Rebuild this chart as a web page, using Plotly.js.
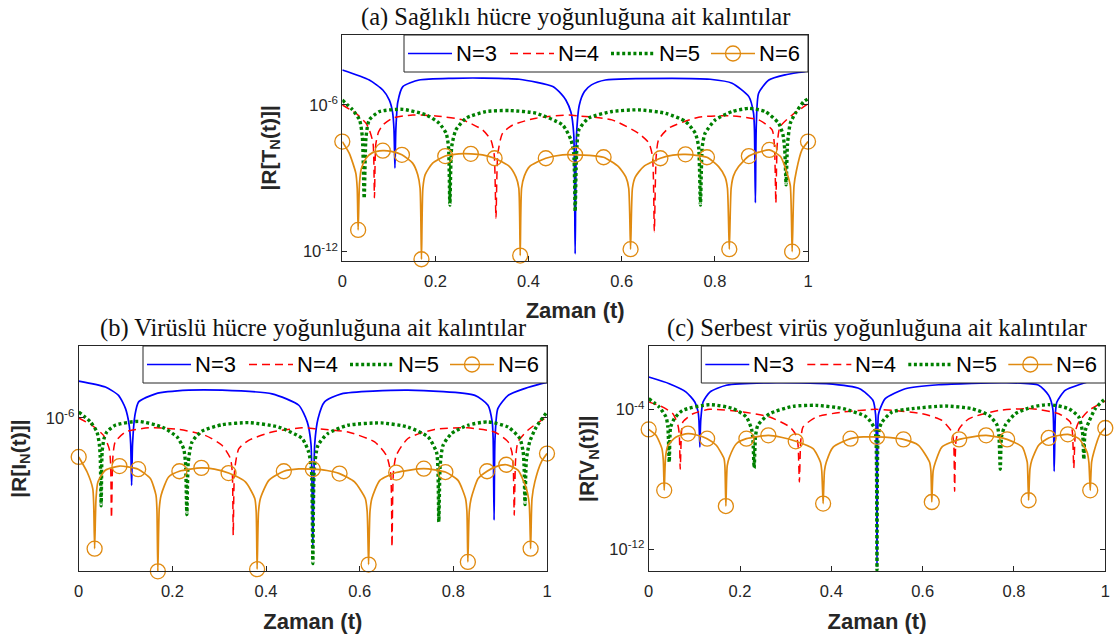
<!DOCTYPE html>
<html>
<head>
<meta charset="utf-8">
<script src="https://cdn.plot.ly/plotly-3.0.1.min.js"></script>
<style>
  html, body { margin: 0; padding: 0; background: #ffffff; }
  #chart { width: 1119px; height: 643px; }
</style>
</head>
<body>
<div id="chart"></div>
<script>
// Residual magnitudes |R| of the collocation solutions, stored as log10 values.
// Panel (a): healthy cells T
const aT3 = [0, 0.058, 0.087, 0.101, 0.108, 0.111, 0.113, 0.115, 0.119, 0.130, 0.165, 0.237, 0.300, 0.380, 0.452, 0.470, 0.480, 0.491, 0.497, 0.500, 0.503, 0.509, 0.520, 0.535, 0.565, 0.708, 0.790, 0.837, 0.873, 0.883, 0.885, 0.887, 0.889, 0.894, 0.916, 0.951, 0.994, 1];
const aV3 = [-4.57, -4.98, -5.39, -5.80, -6.30, -7.00, -8.58, -7.00, -5.90, -5.25, -4.98, -4.91, -4.90, -4.95, -5.25, -5.55, -5.80, -6.30, -7.20, -12.09, -7.20, -6.00, -5.45, -5.18, -4.98, -4.91, -4.95, -5.11, -5.66, -6.33, -7.00, -10.00, -6.80, -5.52, -4.98, -4.77, -4.63, -4.60];
const aT4 = [0, 0.029, 0.051, 0.058, 0.066, 0.069, 0.072, 0.078, 0.087, 0.108, 0.151, 0.201, 0.258, 0.301, 0.319, 0.326, 0.330, 0.334, 0.344, 0.366, 0.416, 0.487, 0.508, 0.579, 0.636, 0.658, 0.666, 0.670, 0.674, 0.679, 0.701, 0.765, 0.837, 0.894, 0.923, 0.928, 0.931, 0.934, 0.940, 0.966, 0.991, 1];
const aV4 = [-6.00, -6.34, -6.75, -7.02, -7.56, -9.80, -7.60, -7.10, -6.82, -6.54, -6.41, -6.45, -6.61, -7.02, -7.43, -8.00, -10.63, -8.00, -7.16, -6.82, -6.54, -6.41, -6.45, -6.61, -7.16, -7.55, -8.10, -11.18, -8.10, -7.43, -6.95, -6.50, -6.45, -6.61, -7.02, -7.70, -10.02, -7.60, -6.89, -6.41, -6.07, -5.95];
const aT5 = [0, 0.022, 0.037, 0.043, 0.047, 0.051, 0.058, 0.080, 0.130, 0.180, 0.208, 0.223, 0.228, 0.231, 0.235, 0.244, 0.266, 0.309, 0.359, 0.416, 0.473, 0.491, 0.497, 0.500, 0.503, 0.508, 0.529, 0.579, 0.636, 0.694, 0.737, 0.758, 0.765, 0.769, 0.773, 0.779, 0.801, 0.837, 0.873, 0.908, 0.937, 0.946, 0.950, 0.953, 0.956, 0.962, 0.973, 0.991, 1];
const aV5 = [-5.80, -6.20, -6.61, -7.30, -9.82, -7.30, -6.61, -6.27, -6.18, -6.41, -6.75, -7.16, -7.70, -10.09, -7.70, -7.02, -6.54, -6.27, -6.23, -6.34, -6.82, -7.43, -8.00, -10.36, -8.00, -7.02, -6.54, -6.27, -6.20, -6.34, -6.68, -7.16, -7.70, -10.09, -7.70, -7.16, -6.61, -6.27, -6.14, -6.27, -6.75, -7.20, -7.80, -9.27, -7.60, -6.75, -6.34, -5.86, -5.75];
const aT6 = [0, 0.015, 0.029, 0.032, 0.034, 0.037, 0.041, 0.051, 0.065, 0.087, 0.105, 0.128, 0.151, 0.162, 0.167, 0.170, 0.173, 0.178, 0.194, 0.221, 0.250, 0.276, 0.301, 0.327, 0.359, 0.373, 0.379, 0.382, 0.385, 0.391, 0.402, 0.437, 0.473, 0.500, 0.530, 0.561, 0.593, 0.609, 0.615, 0.619, 0.623, 0.629, 0.647, 0.683, 0.710, 0.737, 0.783, 0.808, 0.822, 0.827, 0.831, 0.835, 0.840, 0.851, 0.873, 0.895, 0.917, 0.941, 0.955, 0.962, 0.966, 0.970, 0.975, 0.987, 1];
const aV6 = [-7.50, -7.98, -8.79, -9.40, -11.11, -9.20, -8.60, -8.18, -7.95, -7.87, -7.90, -8.04, -8.38, -8.85, -9.40, -12.31, -9.40, -8.85, -8.38, -8.09, -8.00, -8.00, -8.04, -8.18, -8.52, -8.95, -9.40, -12.16, -9.40, -8.90, -8.52, -8.18, -8.04, -8.04, -8.06, -8.14, -8.52, -8.95, -9.40, -11.90, -9.40, -8.95, -8.52, -8.18, -8.05, -8.02, -8.14, -8.52, -8.95, -9.40, -11.90, -9.40, -8.90, -8.52, -8.09, -7.93, -7.84, -8.11, -8.79, -9.30, -12.00, -9.30, -8.70, -7.84, -7.50];
const aMarkT6 = [0, 0.034, 0.087, 0.128, 0.170, 0.221, 0.276, 0.327, 0.382, 0.437, 0.500, 0.561, 0.619, 0.683, 0.737, 0.783, 0.831, 0.873, 0.917, 0.966, 1];
const aMarkV6 = [-7.50, -11.11, -7.87, -8.04, -12.31, -8.09, -8.00, -8.18, -12.16, -8.18, -8.04, -8.14, -11.90, -8.18, -8.02, -8.14, -11.90, -8.09, -7.84, -12.00, -7.50];

// Panel (b): infected cells I
const bT3 = [0, 0.057, 0.085, 0.100, 0.108, 0.111, 0.113, 0.115, 0.120, 0.128, 0.164, 0.235, 0.306, 0.413, 0.470, 0.488, 0.496, 0.500, 0.504, 0.511, 0.525, 0.561, 0.703, 0.846, 0.874, 0.883, 0.885, 0.887, 0.889, 0.895, 0.917, 0.952, 0.988, 1];
const bV3 = [-4.58, -4.81, -5.13, -5.64, -6.30, -7.00, -8.59, -7.00, -5.90, -5.38, -5.07, -4.93, -4.93, -5.07, -5.51, -6.15, -7.00, -11.00, -7.00, -6.03, -5.38, -5.07, -4.93, -5.13, -5.51, -6.15, -6.80, -9.93, -6.80, -5.64, -5.13, -4.87, -4.68, -4.63];
const bT4 = [0, 0.028, 0.053, 0.065, 0.068, 0.070, 0.073, 0.078, 0.100, 0.149, 0.214, 0.270, 0.306, 0.324, 0.328, 0.330, 0.333, 0.342, 0.363, 0.413, 0.477, 0.504, 0.575, 0.632, 0.657, 0.666, 0.669, 0.672, 0.678, 0.703, 0.760, 0.831, 0.888, 0.917, 0.925, 0.928, 0.930, 0.933, 0.938, 0.959, 0.988, 1];
const bV4 = [-6.00, -6.28, -6.67, -7.18, -7.70, -9.85, -7.50, -6.92, -6.54, -6.38, -6.44, -6.67, -7.05, -7.56, -8.10, -10.51, -8.00, -7.18, -6.86, -6.54, -6.38, -6.41, -6.54, -6.92, -7.44, -8.10, -10.96, -8.10, -7.44, -6.79, -6.44, -6.38, -6.54, -6.92, -7.31, -7.90, -9.74, -7.60, -6.92, -6.47, -6.09, -5.98];
const bT5 = [0, 0.025, 0.039, 0.044, 0.046, 0.048, 0.050, 0.054, 0.060, 0.078, 0.128, 0.178, 0.210, 0.224, 0.228, 0.231, 0.234, 0.242, 0.263, 0.306, 0.363, 0.427, 0.477, 0.491, 0.497, 0.500, 0.503, 0.511, 0.532, 0.575, 0.646, 0.703, 0.746, 0.764, 0.767, 0.769, 0.772, 0.778, 0.796, 0.831, 0.874, 0.917, 0.942, 0.949, 0.951, 0.953, 0.956, 0.963, 0.977, 1];
const bV5 = [-5.77, -6.15, -6.54, -7.00, -7.50, -9.38, -7.30, -6.80, -6.54, -6.28, -6.13, -6.35, -6.73, -7.18, -7.70, -9.72, -7.70, -6.92, -6.51, -6.26, -6.18, -6.35, -6.79, -7.31, -8.00, -11.60, -8.00, -7.05, -6.60, -6.28, -6.19, -6.35, -6.73, -7.31, -7.90, -10.00, -7.80, -7.05, -6.60, -6.28, -6.15, -6.35, -6.79, -7.30, -7.80, -9.33, -7.60, -6.92, -6.35, -5.77];
const bT6 = [0, 0.018, 0.030, 0.032, 0.034, 0.037, 0.041, 0.057, 0.087, 0.105, 0.127, 0.153, 0.165, 0.167, 0.169, 0.172, 0.176, 0.192, 0.215, 0.262, 0.290, 0.320, 0.356, 0.376, 0.379, 0.381, 0.384, 0.388, 0.406, 0.438, 0.470, 0.500, 0.530, 0.557, 0.589, 0.612, 0.616, 0.619, 0.622, 0.626, 0.643, 0.678, 0.737, 0.783, 0.810, 0.826, 0.829, 0.831, 0.834, 0.838, 0.853, 0.872, 0.890, 0.913, 0.938, 0.956, 0.962, 0.965, 0.968, 0.974, 0.988, 1];
const bV6 = [-7.50, -8.08, -8.72, -9.30, -11.03, -9.10, -8.46, -8.01, -7.85, -7.88, -7.97, -8.33, -8.97, -9.50, -11.90, -9.50, -8.97, -8.27, -8.05, -7.92, -7.97, -8.12, -8.46, -9.10, -9.60, -11.82, -9.60, -9.10, -8.40, -8.05, -7.96, -7.97, -8.02, -8.14, -8.46, -9.10, -9.60, -11.64, -9.60, -9.10, -8.40, -8.10, -7.95, -8.08, -8.40, -9.10, -9.60, -11.54, -9.60, -9.10, -8.33, -8.05, -7.88, -7.80, -8.01, -8.72, -9.30, -11.03, -9.10, -8.46, -7.69, -7.37];
const bMarkT6 = [0, 0.034, 0.087, 0.127, 0.169, 0.215, 0.262, 0.320, 0.381, 0.438, 0.500, 0.557, 0.619, 0.678, 0.737, 0.783, 0.831, 0.872, 0.913, 0.965, 1];
const bMarkV6 = [-7.50, -11.03, -7.85, -7.97, -11.90, -8.05, -7.92, -8.12, -11.82, -8.05, -7.97, -8.14, -11.64, -8.10, -7.95, -8.08, -11.54, -8.05, -7.80, -11.03, -7.37];

// Panel (c): free virus V
const cT3 = [0, 0.045, 0.082, 0.101, 0.108, 0.110, 0.112, 0.114, 0.119, 0.134, 0.170, 0.279, 0.389, 0.462, 0.491, 0.497, 0.500, 0.503, 0.507, 0.518, 0.562, 0.635, 0.781, 0.854, 0.876, 0.885, 0.888, 0.891, 0.894, 0.912, 0.949, 1];
const cV3 = [-2.13, -2.51, -2.99, -3.56, -4.10, -4.60, -6.14, -4.60, -3.56, -2.99, -2.60, -2.45, -2.51, -2.80, -3.46, -4.30, -13.00, -4.30, -3.94, -3.37, -2.80, -2.57, -2.45, -2.60, -3.18, -3.94, -7.53, -4.10, -3.56, -2.89, -2.51, -2.10];
const cT4 = [0, 0.031, 0.053, 0.064, 0.067, 0.069, 0.072, 0.075, 0.097, 0.134, 0.207, 0.265, 0.309, 0.323, 0.327, 0.330, 0.333, 0.338, 0.367, 0.426, 0.498, 0.533, 0.599, 0.642, 0.664, 0.668, 0.670, 0.673, 0.680, 0.701, 0.767, 0.839, 0.898, 0.923, 0.928, 0.931, 0.935, 0.942, 0.964, 0.996, 1];
const cV4 = [-3.55, -3.85, -4.23, -4.89, -5.40, -7.41, -5.20, -4.70, -4.23, -3.98, -4.13, -4.42, -4.99, -5.47, -6.00, -8.14, -5.80, -4.99, -4.42, -4.13, -3.98, -4.04, -4.23, -4.61, -5.28, -5.90, -8.68, -5.80, -5.09, -4.52, -4.04, -3.94, -4.23, -4.70, -5.30, -7.34, -5.20, -4.70, -4.04, -3.56, -3.50];
const cT5 = [0, 0.023, 0.038, 0.042, 0.045, 0.048, 0.056, 0.074, 0.134, 0.185, 0.214, 0.225, 0.228, 0.231, 0.234, 0.239, 0.265, 0.316, 0.367, 0.426, 0.477, 0.495, 0.498, 0.500, 0.502, 0.506, 0.511, 0.533, 0.577, 0.650, 0.708, 0.745, 0.763, 0.767, 0.770, 0.773, 0.781, 0.803, 0.839, 0.876, 0.920, 0.942, 0.950, 0.953, 0.956, 0.964, 0.978, 0.996, 1];
const cV5 = [-3.37, -3.85, -4.42, -5.00, -7.00, -5.00, -4.52, -4.04, -3.71, -3.94, -4.42, -5.09, -5.60, -7.34, -5.50, -4.89, -4.23, -3.81, -3.75, -3.94, -4.42, -5.09, -5.80, -13.20, -5.80, -5.00, -4.70, -4.13, -3.94, -3.79, -3.94, -4.32, -4.89, -5.50, -7.41, -5.50, -4.89, -4.23, -3.85, -3.71, -3.94, -4.42, -5.28, -6.84, -5.20, -4.70, -3.94, -3.46, -3.40];
const cT6 = [0, 0.016, 0.029, 0.032, 0.034, 0.037, 0.042, 0.060, 0.086, 0.105, 0.128, 0.148, 0.165, 0.167, 0.169, 0.172, 0.177, 0.192, 0.214, 0.262, 0.290, 0.322, 0.360, 0.376, 0.379, 0.382, 0.385, 0.389, 0.404, 0.442, 0.470, 0.500, 0.530, 0.558, 0.591, 0.615, 0.618, 0.620, 0.623, 0.628, 0.642, 0.680, 0.739, 0.785, 0.818, 0.829, 0.830, 0.832, 0.835, 0.839, 0.854, 0.876, 0.918, 0.942, 0.960, 0.964, 0.967, 0.970, 0.975, 0.989, 1];
const cV6 = [-5.13, -5.47, -6.23, -6.90, -8.62, -6.70, -6.04, -5.56, -5.37, -5.45, -5.66, -6.04, -6.81, -7.30, -9.52, -7.20, -6.71, -5.95, -5.66, -5.47, -5.58, -5.81, -6.23, -7.00, -7.50, -9.38, -7.50, -7.00, -6.14, -5.66, -5.56, -5.56, -5.60, -5.70, -6.04, -7.00, -7.50, -9.29, -7.50, -7.00, -6.14, -5.70, -5.47, -5.70, -6.14, -7.00, -7.50, -9.19, -7.40, -6.90, -6.04, -5.62, -5.41, -5.66, -6.42, -7.00, -8.62, -7.00, -6.42, -5.37, -5.05];
const cMarkT6 = [0, 0.034, 0.086, 0.128, 0.169, 0.214, 0.262, 0.322, 0.382, 0.442, 0.500, 0.558, 0.620, 0.680, 0.739, 0.785, 0.832, 0.876, 0.918, 0.967, 1];
const cMarkV6 = [-5.13, -8.62, -5.37, -5.66, -9.52, -5.66, -5.47, -5.81, -9.38, -5.66, -5.56, -5.70, -9.29, -5.70, -5.47, -5.70, -9.19, -5.62, -5.41, -8.62, -5.05];

const seriesNames = ['N=3', 'N=4', 'N=5', 'N=6'];
const panelTitles = [
  '(a) Sağlıklı hücre yoğunluğuna ait kalıntılar',
  '(b) Virüslü hücre yoğunluğuna ait kalıntılar',
  '(c) Serbest virüs yoğunluğuna ait kalıntılar'
];
const yTitles = ['|R[T<sub>N</sub>(t)]|', '|R[I<sub>N</sub>(t)]|', '|R[V<sub>N</sub>(t)]|'];
const xTitle = 'Zaman (t)';
const xTickVals = [0, 0.2, 0.4, 0.6, 0.8, 1];
const xTickText = ['0', '0.2', '0.4', '0.6', '0.8', '1'];
const yTickExp = [[-12, -6], [-6], [-12, -4]];

const SANS = 'Liberation Sans, Arial, Helvetica, sans-serif';
const SERIF = 'Liberation Serif, Times New Roman, serif';
const AXC = '#262626';
const COLORS = ['#0000ff', '#ff0000', '#008000', '#e08a10'];

const pow10 = arr => arr.map(e => Math.pow(10, e));

const panels = [
  { xa: 'x',  ya: 'y',  t: [aT3, aT4, aT5, aT6], v: [aV3, aV4, aV5, aV6], mt: aMarkT6, mv: aMarkV6 },
  { xa: 'x2', ya: 'y2', t: [bT3, bT4, bT5, bT6], v: [bV3, bV4, bV5, bV6], mt: bMarkT6, mv: bMarkV6 },
  { xa: 'x3', ya: 'y3', t: [cT3, cT4, cT5, cT6], v: [cV3, cV4, cV5, cV6], mt: cMarkT6, mv: cMarkV6 }
];

const lineStyles = [
  { color: COLORS[0], width: 1.7, dash: 'solid' },
  { color: COLORS[1], width: 1.5, dash: '8px,5px' },
  { color: COLORS[2], width: 3.4, dash: '3px,2.6px' },
  { color: COLORS[3], width: 1.7, dash: 'solid' }
];
const circle = { symbol: 'circle-open', size: 15, color: COLORS[3], line: { width: 1.3, color: COLORS[3] } };

const traces = [];
panels.forEach(p => {
  for (let k = 0; k < 4; k++) {
    traces.push({
      type: 'scatter', mode: 'lines', xaxis: p.xa, yaxis: p.ya,
      x: p.t[k], y: pow10(p.v[k]), name: seriesNames[k], showlegend: false,
      line: Object.assign({ shape: 'spline', smoothing: 0.6 }, lineStyles[k])
    });
  }
  // circle markers along the N=6 curve
  traces.push({
    type: 'scatter', mode: 'markers', xaxis: p.xa, yaxis: p.ya,
    x: p.mt, y: pow10(p.mv), name: seriesNames[3], showlegend: false,
    marker: circle, cliponaxis: false
  });
});

// subplot boxes in pixels: [left, right, top, bottom]
const W = 1119, H = 643;
const boxes = [[342.3, 808, 35, 260.7], [78.7, 547, 346, 571.3], [648.7, 1105.3, 346, 571.3]];
const yRanges = [[-12.37, -3.14], [-11.9, -3.23], [-13.26, -0.35]];
const yTitleGap = [20, 13, 8];

// legend box geometry (px, relative to the top-right corner of each subplot)
const LEG_W = 404, LEG_H = 37, LEG_LINE = 44;
const LEG_ITEM = [-400, -298, -197, -97];

const px = X => X / W;
const py = Y => 1 - Y / H;

const layout = {
  width: W, height: H,
  margin: { l: 0, r: 0, t: 0, b: 0, pad: 0 },
  paper_bgcolor: '#ffffff', plot_bgcolor: '#ffffff',
  showlegend: false,
  hovermode: false,
  annotations: [],
  shapes: []
};

boxes.forEach((b, i) => {
  const sfx = i === 0 ? '' : String(i + 1);
  layout['xaxis' + sfx] = {
    domain: [px(b[0]), px(b[1])], range: [0, 1], anchor: 'y' + sfx,
    tickvals: xTickVals, ticktext: xTickText,
    ticks: 'inside', ticklen: 5, tickwidth: 1, tickcolor: AXC,
    showline: true, linecolor: AXC, linewidth: 1, mirror: 'ticks',
    showgrid: false, zeroline: false,
    tickfont: { family: SANS, size: 16.5, color: AXC },
    ticklabelstandoff: 5,
    title: { text: xTitle, font: { family: SANS, size: 22, color: AXC, weight: 'bold' }, standoff: 14 }
  };
  layout['yaxis' + sfx] = {
    domain: [py(b[3]), py(b[2])], type: 'log', range: yRanges[i], anchor: 'x' + sfx,
    tickvals: yTickExp[i].map(e => Math.pow(10, e)),
    ticktext: yTickExp[i].map(e => '10<sup>' + e + '</sup>'),
    ticks: 'inside', ticklen: 5, tickwidth: 1, tickcolor: AXC,
    showline: true, linecolor: AXC, linewidth: 1, mirror: 'ticks',
    showgrid: false, zeroline: false,
    tickfont: { family: SANS, size: 16.5, color: AXC },
    title: { text: yTitles[i], font: { family: SANS, size: 21, color: AXC, weight: 'bold' }, standoff: yTitleGap[i] }
  };

  // panel title
  layout.annotations.push({
    text: panelTitles[i], xref: 'paper', yref: 'paper',
    x: px((b[0] + b[1]) / 2), y: py(b[2] - 18),
    xanchor: 'center', yanchor: 'middle', showarrow: false,
    font: { family: SERIF, size: 24.5, color: '#111111' }
  });

  // legend: white box in the top-right corner with one line sample per series
  const R = b[1], T = b[2];
  const yc = py(T + LEG_H / 2);
  layout.shapes.push({
    type: 'rect', xref: 'paper', yref: 'paper', layer: 'above',
    x0: px(R - LEG_W), x1: px(R), y0: py(T + LEG_H), y1: py(T),
    fillcolor: '#ffffff', line: { color: AXC, width: 1 }
  });
  LEG_ITEM.forEach((off, k) => {
    const st = lineStyles[k];
    layout.shapes.push({
      type: 'line', xref: 'paper', yref: 'paper', layer: 'above',
      x0: px(R + off), x1: px(R + off + LEG_LINE), y0: yc, y1: yc,
      line: { color: st.color, width: st.width, dash: st.dash }
    });
    if (k === 3) {
      layout.shapes.push({
        type: 'circle', xref: 'paper', yref: 'paper', layer: 'above',
        xsizemode: 'pixel', ysizemode: 'pixel',
        xanchor: px(R + off + LEG_LINE / 2), yanchor: yc,
        x0: -7.5, x1: 7.5, y0: -7.5, y1: 7.5,
        line: { color: st.color, width: 1.3 }, fillcolor: 'rgba(0,0,0,0)'
      });
    }
    layout.annotations.push({
      text: seriesNames[k], xref: 'paper', yref: 'paper',
      x: px(R + off + LEG_LINE + 2), y: yc, xanchor: 'left', yanchor: 'middle',
      showarrow: false, font: { family: SANS, size: 22, color: '#000000' }
    });
  });
});

Plotly.newPlot('chart', traces, layout, { staticPlot: true, displayModeBar: false });
</script>
</body>
</html>
